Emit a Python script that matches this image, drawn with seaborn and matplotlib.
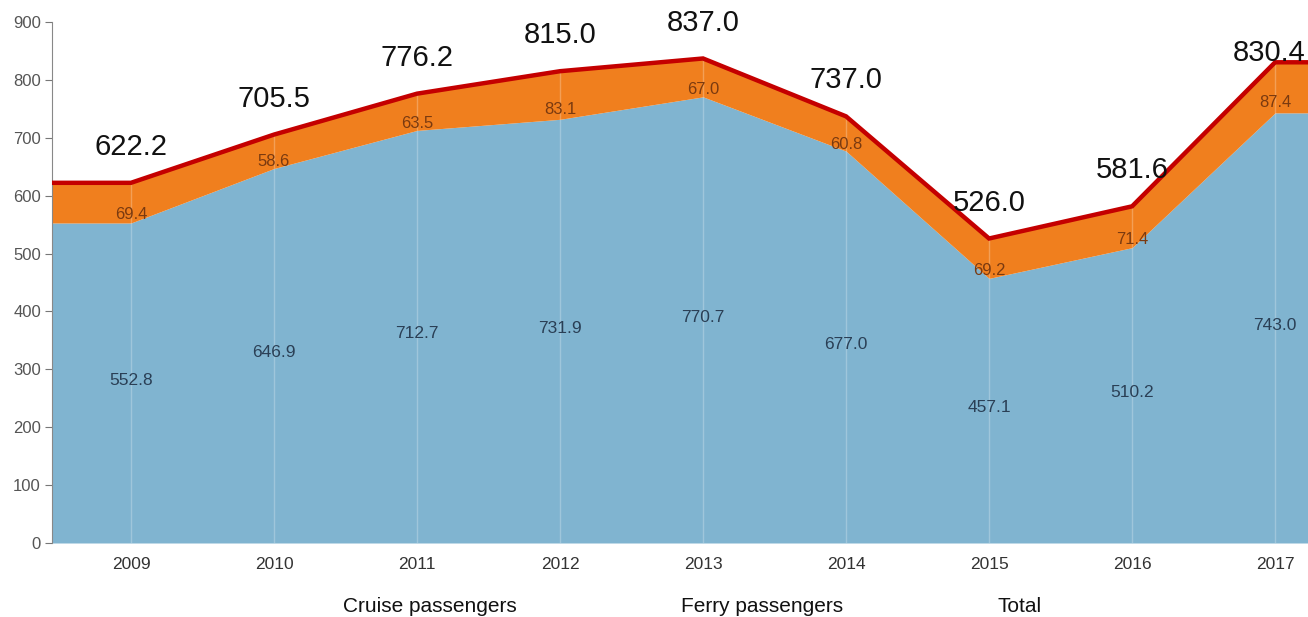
import matplotlib
matplotlib.use("Agg")
import matplotlib.pyplot as plt
import seaborn as sns
import numpy as np
import pandas as pd

years = ["2009", "2010", "2011", "2012", "2013", "2014", "2015", "2016", "2017"]
cruise = [552.8, 646.9, 712.7, 731.9, 770.7, 677.0, 457.1, 510.2, 743.0]
ferry = [69.4, 58.6, 63.5, 83.1, 67.0, 60.8, 69.2, 71.4, 87.4]
total = [622.2, 705.5, 776.2, 815.0, 837.0, 737.0, 526.0, 581.6, 830.4]
legend_labels = ["Cruise passengers", "Ferry passengers", "Total"]
y_ticks = [0, 100, 200, 300, 400, 500, 600, 700, 800, 900]

sns.set_theme(style="white")
plt.rcParams["font.family"] = ["Liberation Sans", "DejaVu Sans"]

BLUE = "#80b4d0"
ORANGE = "#f07f1e"
RED = "#c40000"

fig = plt.figure(figsize=(13.08, 6.17), dpi=100)
ax = fig.add_axes([52 / 1308, 1 - 543 / 617, 1 - 52 / 1308, (543 - 22) / 617])

x = np.arange(len(years))
xmin, xmax = -0.552, 8.23
# extend the first and last values flat to the plot edges
xe = np.concatenate([[xmin], x, [xmax]])
ce = np.concatenate([[cruise[0]], cruise, [cruise[-1]]])
fe = np.concatenate([[ferry[0]], ferry, [ferry[-1]]])
te = np.concatenate([[total[0]], total, [total[-1]]])

ax.stackplot(xe, ce, fe, colors=[BLUE, ORANGE], linewidth=0)

df = pd.DataFrame({"x": xe, "total": te})
sns.lineplot(data=df, x="x", y="total", ax=ax, color=RED, linewidth=3.2,
             solid_joinstyle="miter", zorder=5)

for xi in x:
    ax.axvline(xi, color="white", alpha=0.25, linewidth=1, zorder=3)

n = len(years)
for i, (xi, c, f, t) in enumerate(zip(x, cruise, ferry, total)):
    ax.text(xi, c / 2 + 5, f"{c:.1f}", ha="center", va="center",
            fontsize=12.5, color="#2a3f55", zorder=6)
    ax.text(xi, c + 0.2 * f, f"{f:.1f}", ha="center", va="center",
            fontsize=12, color="#7a3a10", zorder=6)
    if i < n - 1:
        ax.text(xi, t + 62, f"{t:.1f}", ha="center", va="center",
                fontsize=21, color="#111111", zorder=6)
    else:
        ax.text(xmax - 0.02, t + 16, f"{t:.1f}", ha="right", va="center",
                fontsize=21, color="#111111", zorder=6)

ax.set_xlim(xmin, xmax)
ax.set_ylim(0, 900)
ax.set_xticks(x)
ax.set_xticklabels(years)
ax.set_yticks(y_ticks)
ax.set_xlabel("")
ax.set_ylabel("")
ax.tick_params(axis="x", length=0, labelsize=12.5, labelcolor="#333333", pad=10)
ax.tick_params(axis="y", length=5, width=0.8, color="#777777", labelsize=12,
               labelcolor="#555555", pad=3, left=True)
for s in ["top", "right", "bottom"]:
    ax.spines[s].set_visible(False)
ax.spines["left"].set_color("#888888")
ax.spines["left"].set_linewidth(0.8)
ax.grid(False)

for lab, xc in zip(legend_labels, [430, 762, 1020]):
    fig.text(xc / 1308, 1 - 607 / 617, lab, ha="center", va="center",
             fontsize=15, color="#111111")

fig.savefig("out.png", dpi=100)
